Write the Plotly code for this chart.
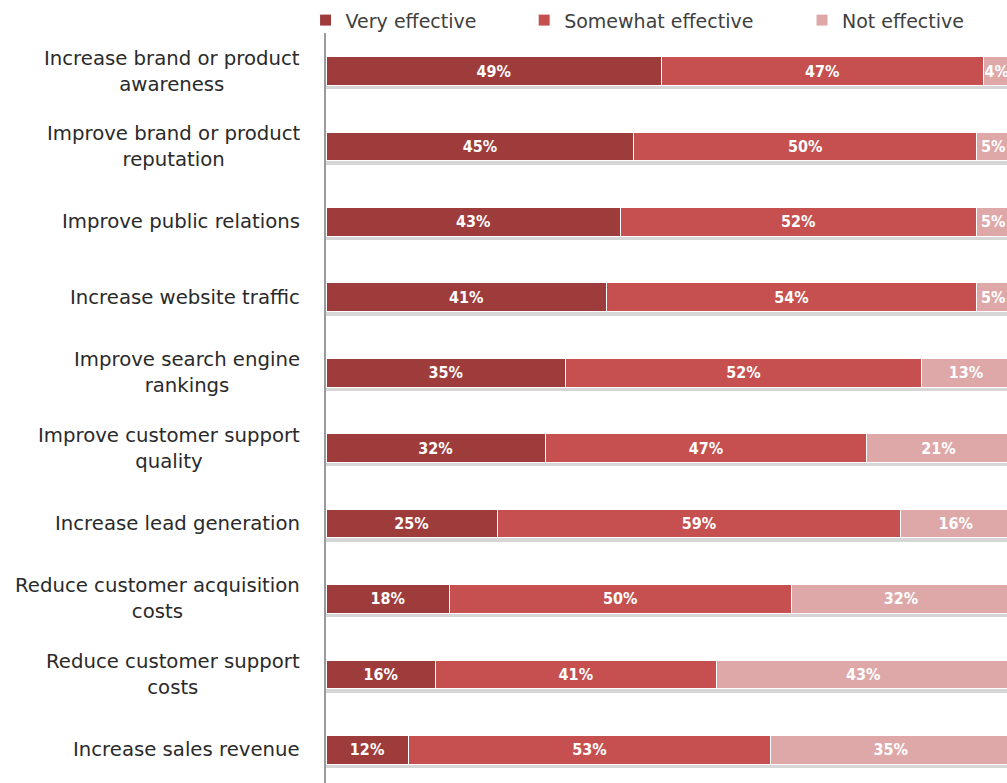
import plotly.graph_objects as go

categories = [
    "Increase brand or product<br>awareness",
    "Improve brand or product<br>reputation",
    "Improve public relations",
    "Increase website traffic",
    "Improve search engine<br>rankings",
    "Improve customer support<br>quality",
    "Increase lead generation",
    "Reduce customer acquisition<br>costs",
    "Reduce customer support<br>costs",
    "Increase sales revenue",
]
very_effective = [49, 45, 43, 41, 35, 32, 25, 18, 16, 12]
somewhat_effective = [47, 50, 52, 54, 52, 47, 59, 50, 41, 53]
not_effective = [4, 5, 5, 5, 13, 21, 16, 32, 43, 35]

series = [
    ("Very effective", very_effective, "#9E3C3B", "legend"),
    ("Somewhat effective", somewhat_effective, "#C6504F", "legend2"),
    ("Not effective", not_effective, "#DEA8A9", "legend3"),
]

totals = [a + b + c for a, b, c in zip(very_effective, somewhat_effective, not_effective)]

fig = go.Figure()
# soft drop shadow under each bar (drawn on an axis shifted slightly downward)
fig.add_trace(go.Bar(
    y=categories, x=totals, orientation="h", yaxis="y",
    marker=dict(color="rgba(0,0,0,0.16)", line=dict(width=0)),
    showlegend=False, hoverinfo="skip",
))
for name, vals, color, leg in series:
    fig.add_trace(go.Bar(
        y=categories, x=vals, name=name, orientation="h", yaxis="y2",
        marker=dict(color=color, line=dict(color="white", width=1)),
        text=[f"{v}%" for v in vals], textposition="inside", textangle=0,
        insidetextanchor="middle", constraintext="none",
        textfont=dict(family="DejaVu Sans Condensed", size=16, color="white", weight="bold"),
        legend=leg,
    ))

# category labels, centred multi-line like the original
for cat in categories:
    fig.add_annotation(
        x=-24 / 681, xref="paper", y=cat, yref="y2",
        text=cat, showarrow=False, xanchor="right", align="center",
        font=dict(family="DejaVu Sans", size=19.7, color="#2a2a2a"),
    )

legend_common = dict(orientation="h", yanchor="middle", y=1.017, xanchor="left",
                     font=dict(family="DejaVu Sans", size=19, color="#404040"),
                     bgcolor="rgba(0,0,0,0)", itemwidth=30)

shift = 4 / 75.4
fig.update_layout(
    width=1007, height=783,
    margin=dict(l=326, r=0, t=33, b=0),
    barmode="stack", bargap=0.62,
    plot_bgcolor="white", paper_bgcolor="white",
    showlegend=True,
    legend=dict(x=-0.03, **legend_common),
    legend2=dict(x=0.291, **legend_common),
    legend3=dict(x=0.699, **legend_common),
    xaxis=dict(range=[0, 99.5], showticklabels=False, showgrid=False,
               zeroline=False, showline=False, ticks=""),
    yaxis=dict(categoryorder="array", categoryarray=categories,
               range=[9.44 - shift, -0.504 - shift], showgrid=False, zeroline=False,
               showline=True, linecolor="#9a9a9a", linewidth=1.5,
               ticks="", showticklabels=False),
    yaxis2=dict(categoryorder="array", categoryarray=categories, overlaying="y",
                range=[9.44, -0.504], showgrid=False, zeroline=False,
                showline=False, ticks="", showticklabels=False),
)

fig.write_html("out.html")
